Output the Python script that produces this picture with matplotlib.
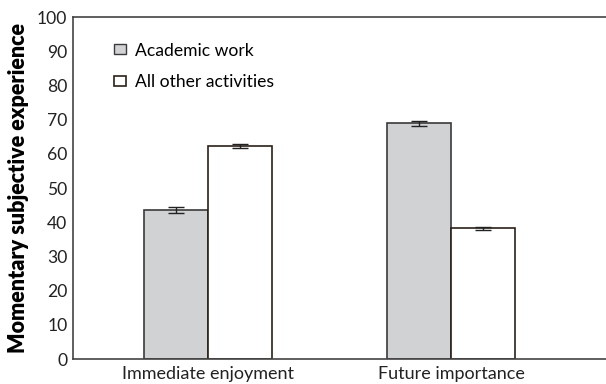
import numpy as np
import matplotlib.pyplot as plt
from matplotlib.patches import Patch

plt.rcParams['font.family'] = ['Lato', 'DejaVu Sans']

categories = ['Immediate enjoyment', 'Future importance']
academic = [43.5, 68.9]
academic_err = [0.9, 0.8]
other = [62.3, 38.2]
other_err = [0.5, 0.5]
y_ticks = [0, 10, 20, 30, 40, 50, 60, 70, 80, 90, 100]

fig = plt.figure(figsize=(6.06, 3.84), dpi=100)
# axes runs past the right edge of the figure, like the cropped original
ax = fig.add_axes([0.1205, 0.0651, 0.925, 0.8906])

x = np.arange(len(categories))
w = 0.263
ax.bar(x - w / 2, academic, w, color='#d1d2d4', edgecolor='#3a3a3a', linewidth=1.2)
ax.bar(x + w / 2, other, w, color='white', edgecolor='#2b2018', linewidth=1.2)
ax.errorbar(x - w / 2, academic, yerr=academic_err, fmt='none', ecolor='#222222',
            elinewidth=1, capsize=5.5, capthick=1)
ax.errorbar(x + w / 2, other, yerr=other_err, fmt='none', ecolor='#222222',
            elinewidth=1, capsize=5.5, capthick=1)

ax.set_xlim(-0.556, 1.75)
ax.set_ylim(0, 100)
ax.set_yticks(y_ticks)
ax.set_xticks(x)
ax.set_xticklabels(categories)
ax.tick_params(axis='both', length=0, labelsize=12.6, colors='#222222', pad=4)
ax.tick_params(axis='x', labelsize=13, pad=5)
for s in ['left', 'bottom', 'top']:
    ax.spines[s].set_color('#444444')
    ax.spines[s].set_linewidth(1.2)
ax.spines['right'].set_visible(False)

ax.set_ylabel('Momentary subjective experience', fontsize=15.5, fontweight='heavy', labelpad=6)

handles = [Patch(facecolor='#d1d2d4', edgecolor='#3a3a3a', linewidth=1, label='Academic work'),
           Patch(facecolor='white', edgecolor='#2b2018', linewidth=1.2, label='All other activities')]
ax.legend(handles=handles, loc='upper left', bbox_to_anchor=(0.162, 0.93),
          bbox_transform=fig.transFigure, frameon=False, fontsize=12.6,
          handlelength=0.68, handleheight=0.5, handletextpad=0.55, labelspacing=0.9)

fig.savefig('out.png', dpi=100)
